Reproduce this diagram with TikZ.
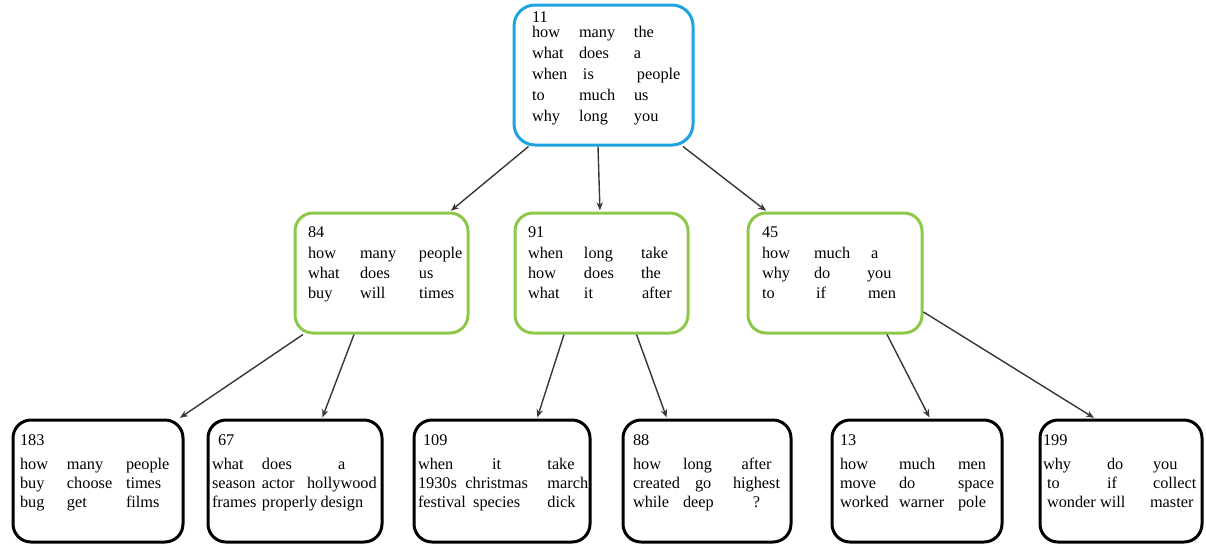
\documentclass[tikz,border=0pt]{standalone}
\usepackage{fontspec}
\setmainfont{Liberation Serif}
\usetikzlibrary{arrows,arrows.meta,positioning}
\setlength{\tabcolsep}{0pt}
\definecolor{rootblue}{RGB}{30,163,224}
\definecolor{leafgreen}{RGB}{141,200,75}
\definecolor{edgegray}{RGB}{55,55,55}
\tikzstyle{aS}=[every edge/.style={draw=edgegray,line width=1.4pt,->,>={Stealth[length=8pt,width=6.5pt]},shorten >=1.2pt}]
\tikzstyle{Abox}=[draw,rounded corners=18pt,line width=3pt,align=left,
               font=\fontsize{16.3}{20}\selectfont]
\tikzstyle{Aroot}=[Abox,draw=rootblue,rounded corners=21pt,inner ysep=3.5pt,text depth=119pt]
\tikzstyle{Amid}=[Abox,draw=leafgreen,inner ysep=10.5pt,text depth=85pt]
\tikzstyle{Aleaf}=[Abox,draw=black,inner ysep=11.5pt,text depth=85pt]

\begin{document}
\begin{tikzpicture}[aS,x=1pt,y=-1pt]
  \useasboundingbox (0,0) rectangle (1206,546);
  % root
  \node[Aroot,text width=143pt,inner xsep=18pt] (n11) at (603.5,75) {%
    \begin{tabular}[t]{p{47pt}p{55pt}l}
      \multicolumn{3}{l}{11}\\[-5pt]
      how & many & the\\[1pt]
      what & does & a\\[1pt]
      when & \hspace{4pt}is & \hspace{3pt}people\\[1pt]
      to & much & us\\[1pt]
      why & long & you
    \end{tabular}};
  % second level
  \node[Amid,text width=147pt,inner xsep=13pt] (n84) at (381.5,273) {%
    \begin{tabular}[t]{p{52pt}p{59pt}l}
      \multicolumn{3}{l}{84}\\[1pt]
      how & many & people\\
      what & does & us\\
      buy & will & times
    \end{tabular}};
  \node[Amid,text width=147pt,inner xsep=13pt] (n91) at (601.5,273) {%
    \begin{tabular}[t]{p{56pt}p{57pt}l}
      \multicolumn{3}{l}{91}\\[1pt]
      when & long & take\\
      how & does & the\\
      what & it & \hspace{1pt}after
    \end{tabular}};
  \node[Amid,text width=146pt,inner xsep=14pt] (n45) at (835,273) {%
    \begin{tabular}[t]{p{52pt}p{53pt}l}
      \multicolumn{3}{l}{45}\\[1pt]
      how & much & \hspace{4pt}a\\
      why & do & you\\
      to & \hspace{2pt}if & \hspace{1pt}men
    \end{tabular}};
  % leaves
  \node[Aleaf,text width=156pt,inner xsep=7pt] (n183) at (98,481) {%
    \begin{tabular}[t]{p{47pt}p{59pt}l}
      \multicolumn{3}{l}{183}\\[4pt]
      how & many & people\\[-1pt]
      buy & choose & times\\[-1pt]
      bug & get & films
    \end{tabular}};
  \node[Aleaf,text width=166pt,inner xsep=4pt] (n67) at (295,481) {%
    \begin{tabular}[t]{p{50pt}p{45pt}c}
      \multicolumn{3}{l}{\hspace{6pt}67}\\[4pt]
      what & does & a\\[-1pt]
      season & actor & hollywood\\[-1pt]
      frames & properly & design
    \end{tabular}};
  \node[Aleaf,text width=168pt,inner xsep=4pt] (n109) at (502,481) {%
    \begin{tabular}[t]{p{47.5pt}c@{\hspace{19.5pt}}l}
      \multicolumn{3}{l}{\hspace{5pt}109}\\[4pt]
      when & it & take\\[-1pt]
      1930s & christmas & march\\[-1pt]
      festival & species & dick
    \end{tabular}};
  \node[Aleaf,text width=148pt,inner xsep=10pt] (n88) at (707,481) {%
    \begin{tabular}[t]{p{50pt}p{50pt}c}
      \multicolumn{3}{l}{88}\\[4pt]
      how & long & after\\[-1pt]
      created & \hspace{12pt}go & highest\\[-1pt]
      while & deep & ?
    \end{tabular}};
  \node[Aleaf,text width=154pt,inner xsep=8pt] (n13) at (917,481) {%
    \begin{tabular}[t]{p{59pt}p{59pt}l}
      \multicolumn{3}{l}{13}\\[4pt]
      how & much & men\\[-1pt]
      move & do & space\\[-1pt]
      worked & warner & pole
    \end{tabular}};
  \node[Aleaf,text width=156pt,inner xsep=3pt] (n199) at (1121,481) {%
    \begin{tabular}[t]{p{64pt}p{46pt}l}
      \multicolumn{3}{l}{199}\\[4pt]
      why & do & you\\[-1pt]
      \hspace{4pt}to & if & collect\\[-1pt]
      \hspace{4pt}wonder & \hspace{-7pt}will & \hspace{-3pt}master
    \end{tabular}};
  % arrows
  \path ([xshift=-75pt]n11.south) edge ([xshift=68.5pt]n84.north)
        ([xshift=-5.5pt]n11.south) edge ([xshift=-1.5pt]n91.north)
        ([xshift=79.5pt]n11.south) edge ([xshift=-68pt]n45.north);
  \path ([xshift=-78.5pt]n84.south) edge ([xshift=81pt]n183.north)
        ([xshift=-27.5pt]n84.south) edge ([xshift=27pt]n67.north);
  \path ([xshift=-37.5pt]n91.south) edge ([xshift=35pt]n109.north)
        ([xshift=35pt]n91.south) edge ([xshift=-40pt]n88.north);
  \path ([xshift=52pt]n45.south) edge ([xshift=13pt]n13.north)
        ([yshift=-39pt]n45.east) edge ([xshift=-26pt]n199.north);
\end{tikzpicture}
\end{document}
